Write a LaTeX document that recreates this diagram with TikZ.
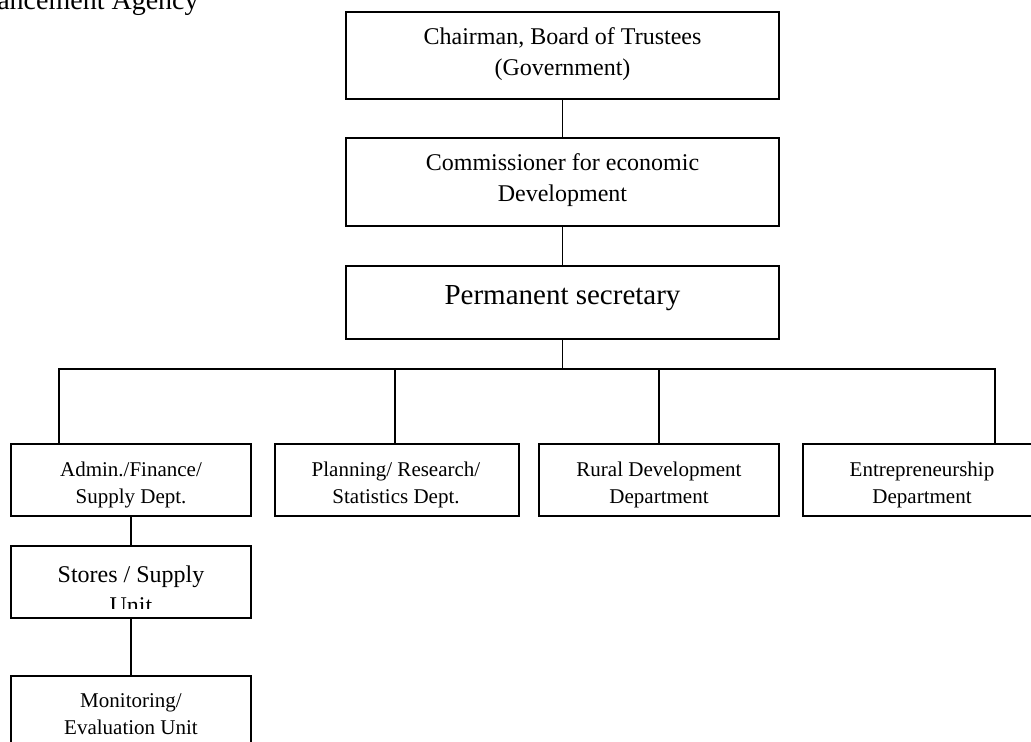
\documentclass[tikz,border=0pt]{standalone}
\usepackage{fontspec}
\setmainfont{Liberation Serif}
\usetikzlibrary{calc}
\newcommand\txtA{\fontsize{18}{23.25}\selectfont}
\newcommand\txtB{\fontsize{21.75}{26}\selectfont}
\newcommand\txtC{\fontsize{15.75}{20.25}\selectfont}
\newcommand\txtT{\fontsize{21}{25}\selectfont}
\begin{document}
\begin{tikzpicture}[x=0.75pt,y=-0.75pt,
  box/.style={draw, line width=1.4pt, inner sep=0pt},
  conn/.style={line width=1.4pt},
  lbl/.style={align=center, inner sep=0pt}]
\useasboundingbox (0,0) rectangle (1031,742);
\clip (0,0) rectangle (1031,742);
% title fragment
\node[anchor=base west, inner sep=0pt, font=\txtT] (title) at (-3,10) {ancement Agency};
% top chain
\node[box, minimum width=433*0.75pt, minimum height=87*0.75pt] (chair) at (562.5,55.5) {};
\node[lbl, font=\txtA] (chairT) at (562.5,54) {Chairman, Board of Trustees\\(Government)};
\node[box, minimum width=433*0.75pt, minimum height=88*0.75pt] (comm) at (562.5,182) {};
\node[lbl, font=\txtA] (commT) at (562.5,180) {Commissioner for economic\\Development};
\node[box, minimum width=433*0.75pt, minimum height=73*0.75pt] (perm) at (562.5,302.5) {};
\node[lbl, font=\txtB] (permT) at (562.5,298.5) {Permanent secretary};
% departments
\node[box, minimum width=240*0.75pt, minimum height=72*0.75pt] (admin) at (131,480) {};
\node[lbl, font=\txtC] (adminT) at (131,484.5) {Admin./Finance/\\Supply Dept.};
\node[box, minimum width=244*0.75pt, minimum height=72*0.75pt] (plan) at (397,480) {};
\node[lbl, font=\txtC] (planT) at (396,484.5) {Planning/ Research/\\Statistics Dept.};
\node[box, minimum width=240*0.75pt, minimum height=72*0.75pt] (rural) at (659,480) {};
\node[lbl, font=\txtC] (ruralT) at (659,484.5) {Rural Development\\Department};
\node[box, minimum width=238*0.75pt, minimum height=72*0.75pt] (entre) at (922,480) {};
\node[lbl, font=\txtC] (entreT) at (922,484.5) {Entrepreneurship\\Department};
% units
\node[box, minimum width=240*0.75pt, minimum height=72*0.75pt] (stores) at (131,582) {};
\begin{scope}
\clip (11,546) rectangle (251,608);
\node[lbl, font=\txtA] (storesT) at (131,590) {Stores / Supply\\Unit};
\end{scope}
\node[box, minimum width=240*0.75pt, minimum height=84*0.75pt] (monit) at (131,718) {};
\node[lbl, font=\txtC] (monitT) at (131,714.5) {Monitoring/\\Evaluation Unit};
% connectors
\coordinate (busL) at (59,369);
\coordinate (busR) at (995,369);
\coordinate (busM) at (562.5,369);
\coordinate (dropP) at (395,369);
\draw[conn] (chair) -- (comm);
\draw[conn] (comm) -- (perm);
\draw[conn] (perm.south) -- (busM);
\draw[conn] (busL |- admin.north) -- (busL) -- (busR) -- (busR |- entre.north);
\draw[conn] (dropP) -- (dropP |- plan.north);
\draw[conn] (rural.north) -- (rural.north |- busL);
\draw[conn] (admin) -- (stores);
\draw[conn] (stores) -- (monit);
\end{tikzpicture}
\end{document}
